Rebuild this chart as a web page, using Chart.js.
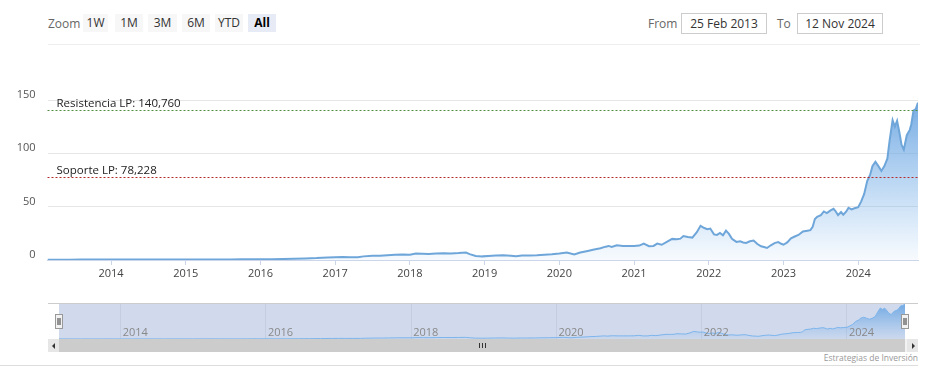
<!DOCTYPE html>
<html>
<head>
<meta charset="utf-8">
<script src="https://cdn.jsdelivr.net/npm/chart.js@4"></script>
<style>
  body { margin: 0; width: 933px; height: 388px; background: #fff; font-family: "Open Sans", sans-serif; overflow: hidden; position: relative; }
  .abs { position: absolute; }
  .zoom-label { left: 48px; top: 15px; font-size: 12px; color: #666; }
  .rs-btn { top: 14px; height: 18px; line-height: 18px; font-size: 12px; color: #333; background: #f7f7f7; text-align: center; }
  .rs-btn.active { background: #e6ebf5; font-weight: bold; color: #000; }
  .rs-text { top: 15px; font-size: 12px; color: #666; }
  .rs-input { top: 13px; line-height: 19px; border: 1px solid #ccc; font-size: 12px; color: #333; text-align: center; box-sizing: border-box; width: 86px; height: 21px; }
  .sep { left: 48px; top: 44px; width: 872px; height: 1px; background: #eee; }
  #mainWrap { left: 0; top: 50px; width: 933px; height: 240px; }
  #navWrap { left: 48px; top: 303px; width: 870px; height: 36px; }
  .sb-track { left: 48px; top: 339px; width: 870px; height: 13px; background: #f2f2f2; }
  .sb-thumb { left: 59px; top: 339px; width: 846px; height: 13px; background: #cccccc; }
  .sb-btn { top: 339px; width: 11px; height: 13px; background: #e6e6e6; }
  .sb-btn span { position: absolute; top: 4px; width: 0; height: 0; border-top: 3px solid transparent; border-bottom: 3px solid transparent; }
  .grip { left: 479px; top: 343px; width: 1px; height: 5px; background: #333; }
  .credits { right: 15px; top: 352px; font-size: 8.5px; color: #999; }
  .bottom-line { left: 0; top: 365px; width: 918px; height: 1px; background: #ddd; }
</style>
</head>
<body>
<div class="abs zoom-label">Zoom</div>
<div class="abs rs-btn" style="left:83px;width:25px">1W</div>
<div class="abs rs-btn" style="left:115px;width:28px">1M</div>
<div class="abs rs-btn" style="left:148px;width:29px">3M</div>
<div class="abs rs-btn" style="left:182px;width:28px">6M</div>
<div class="abs rs-btn" style="left:215px;width:28px">YTD</div>
<div class="abs rs-btn active" style="left:248px;width:28px">All</div>
<div class="abs rs-text" style="left:648px">From</div>
<div class="abs rs-input" style="left:681px">25 Feb 2013</div>
<div class="abs rs-text" style="left:777px">To</div>
<div class="abs rs-input" style="left:797px">12 Nov 2024</div>
<div class="abs sep"></div>

<div class="abs" id="mainWrap"><canvas id="mainChart"></canvas></div>
<div class="abs" id="navWrap"><canvas id="navChart"></canvas></div>

<div class="abs sb-track"></div>
<div class="abs sb-thumb"></div>
<div class="abs sb-btn" style="left:48px"><span style="left:4px;border-right:3px solid #333"></span></div>
<div class="abs sb-btn" style="left:907px"><span style="left:5px;border-left:3px solid #333"></span></div>
<div class="abs grip"></div>
<div class="abs grip" style="left:482px"></div>
<div class="abs grip" style="left:485px"></div>
<div class="abs credits">Estrategias de Inversión</div>
<div class="abs bottom-line"></div>

<script>
// fechas en año decimal (semanal aprox.) y precio de cierre
const dates = [
  2013.15, 2013.3, 2013.45, 2013.6, 2013.75, 2013.9,
  2014.0, 2014.15, 2014.3, 2014.45, 2014.6, 2014.75, 2014.9,
  2015.0, 2015.15, 2015.3, 2015.45, 2015.6, 2015.75, 2015.9,
  2016.0, 2016.15, 2016.3, 2016.45, 2016.6, 2016.75, 2016.9,
  2017.0, 2017.1, 2017.2, 2017.3, 2017.38, 2017.5, 2017.6, 2017.7, 2017.8, 2017.9,
  2018.0, 2018.08, 2018.17, 2018.25, 2018.35, 2018.45, 2018.55, 2018.65, 2018.75, 2018.8, 2018.88, 2018.97,
  2019.05, 2019.15, 2019.25, 2019.35, 2019.42, 2019.5, 2019.6, 2019.7, 2019.8, 2019.9,
  2020.0, 2020.1, 2020.2, 2020.28, 2020.38, 2020.45, 2020.55, 2020.62, 2020.66, 2020.7, 2020.77, 2020.85, 2020.93,
  2021.0, 2021.07, 2021.13, 2021.2, 2021.26, 2021.31, 2021.37, 2021.45, 2021.51, 2021.57, 2021.62, 2021.66,
  2021.72, 2021.78, 2021.84, 2021.89, 2021.94, 2021.98,
  2022.02, 2022.07, 2022.11, 2022.15, 2022.19, 2022.23, 2022.27, 2022.31, 2022.37, 2022.42, 2022.46, 2022.5,
  2022.55, 2022.6, 2022.65, 2022.7, 2022.75, 2022.78, 2022.83, 2022.88, 2022.93, 2022.97,
  2023.0, 2023.05, 2023.1, 2023.15, 2023.2, 2023.26, 2023.32, 2023.36, 2023.39, 2023.42, 2023.45, 2023.5,
  2023.54, 2023.58, 2023.63, 2023.67, 2023.7, 2023.73, 2023.77, 2023.8, 2023.84, 2023.87, 2023.91, 2023.95,
  2024.0, 2024.04, 2024.08, 2024.12, 2024.16, 2024.19, 2024.23, 2024.27, 2024.31, 2024.35, 2024.39, 2024.42,
  2024.46, 2024.49, 2024.52, 2024.55, 2024.58, 2024.61, 2024.65, 2024.69, 2024.71, 2024.74, 2024.77, 2024.8,
];
const prices = [
  0.31, 0.33, 0.35, 0.38, 0.38, 0.40,
  0.40, 0.45, 0.47, 0.48, 0.46, 0.48, 0.50,
  0.50, 0.55, 0.55, 0.50, 0.50, 0.62, 0.80,
  0.80, 0.80, 0.90, 1.20, 1.50, 1.80, 2.40,
  2.60, 2.70, 2.50, 2.60, 3.40, 4.00, 4.10, 4.50, 5.00, 5.20,
  5.00, 6.00, 5.80, 5.60, 6.20, 6.40, 6.20, 6.50, 7.00, 5.50, 3.80, 3.40,
  3.70, 4.20, 4.50, 4.00, 3.60, 4.20, 4.20, 4.40, 5.00, 5.30,
  6.00, 7.00, 5.20, 7.00, 8.50, 9.60, 11.0, 12.5, 13.2, 12.2, 13.8, 13.2, 13.2,
  13.1, 13.5, 15.4, 12.9, 13.2, 15.4, 14.3, 17.5, 19.8, 19.4, 20.0, 22.4,
  21.5, 21.0, 26.0, 32.0, 30.0, 28.8,
  29.5, 24.0, 23.5, 25.3, 23.2, 27.5, 24.5, 19.8, 17.0, 17.6, 16.4, 16.0,
  17.5, 18.2, 15.0, 12.8, 12.0, 11.3, 13.8, 15.8, 16.8, 15.2,
  14.3, 16.5, 20.3, 22.0, 23.5, 26.8, 27.5, 28.0, 31.0, 38.5, 40.5, 42.0,
  45.5, 44.0, 46.5, 48.0, 45.5, 42.0, 45.0, 42.5, 45.5, 49.0, 47.5, 48.5,
  49.5, 55.0, 62.0, 74.0, 80.0, 88.0, 92.0, 88.0, 83.5, 88.0, 95.0, 112.0,
  131.0, 125.0, 130.5, 120.0, 108.0, 103.5, 117.0, 122.0, 127.0, 140.0, 141.5, 147.5,
];
const yTicks = [0, 50, 100, 150];
const resistencia = 140.760;
const soporte = 78.228;
const xMin = 2013.15;
const xMax = 2024.8;

const points = dates.map((d, i) => ({ x: d, y: prices[i] }));

function areaGradient(ctx, top, bottom) {
  const g = ctx.createLinearGradient(0, top, 0, bottom);
  g.addColorStop(0, 'rgba(110, 166, 225, 0.95)');
  g.addColorStop(1, 'rgba(124, 181, 236, 0.06)');
  return g;
}

// lineas de soporte / resistencia
const plotLines = {
  id: 'plotLines',
  afterDatasetsDraw(chart) {
    const { ctx, chartArea } = chart;
    const y = chart.scales.y;
    const lines = [
      { v: resistencia, color: '#4f8f3f', text: 'Resistencia LP: 140,760' },
      { v: soporte, color: '#b52a2a', text: 'Soporte LP: 78,228' },
    ];
    ctx.save();
    lines.forEach((l) => {
      const py = Math.round(y.getPixelForValue(l.v)) + 0.5;
      ctx.strokeStyle = l.color;
      ctx.lineWidth = 1;
      ctx.setLineDash([2, 2]);
      ctx.beginPath();
      ctx.moveTo(chartArea.left, py);
      ctx.lineTo(chartArea.right, py);
      ctx.stroke();
      ctx.setLineDash([]);
      ctx.fillStyle = '#222';
      ctx.font = '11.5px "Open Sans"';
      ctx.textBaseline = 'alphabetic';
      ctx.fillText(l.text, chartArea.left + 9, py - 4);
    });
    ctx.restore();
  },
};

new Chart(document.getElementById('mainChart'), {
  type: 'line',
  data: {
    datasets: [{
      data: points,
      borderColor: '#6fa6da',
      borderWidth: 2,
      pointRadius: 0,
      tension: 0,
      fill: 'origin',
      backgroundColor: (c) => {
        const a = c.chart.chartArea;
        if (!a) return 'rgba(124,181,236,0.4)';
        return areaGradient(c.chart.ctx, a.top, a.bottom);
      },
    }],
  },
  options: {
    responsive: true,
    maintainAspectRatio: false,
    animation: false,
    layout: { padding: { top: 50, right: 15, left: 0, bottom: 0 } },
    plugins: { legend: { display: false }, tooltip: { enabled: false } },
    scales: {
      x: {
        type: 'linear',
        min: xMin,
        max: xMax,
        ticks: {
          stepSize: 1,
          includeBounds: false,
          color: '#444',
          font: { family: 'Open Sans', size: 11 },
          padding: 2,
          maxRotation: 0,
          callback: (v) => String(v),
        },
        grid: { drawOnChartArea: false, tickLength: 5, color: '#ccd6eb' },
        border: { color: '#ccd6eb' },
        afterFit: (s) => { s.height = 30; },
      },
      y: {
        min: 0,
        max: 150,
        afterBuildTicks: (s) => { s.ticks = yTicks.map((v) => ({ value: v })); },
        ticks: {
          color: '#555',
          font: { family: 'Open Sans', size: 11 },
          padding: 12,
          labelOffset: -5,
        },
        grid: { color: '#e6e6e6', drawTicks: false },
        border: { display: false },
        afterFit: (s) => { s.width = 47.5; },
      },
    },
  },
  plugins: [plotLines],
});

// navegador
const navDecor = {
  id: 'navDecor',
  beforeDraw(chart) {
    const { ctx, chartArea } = chart;
    ctx.save();
    ctx.fillStyle = 'rgb(209, 218, 237)';
    ctx.fillRect(chartArea.left, chartArea.top, chartArea.right - chartArea.left, chartArea.bottom - chartArea.top);
    ctx.restore();
  },
  afterDraw(chart) {
    const { ctx, chartArea } = chart;
    const x = chart.scales.x;
    ctx.save();
    ctx.fillStyle = '#888';
    ctx.font = '11px "Open Sans"';
    ctx.textBaseline = 'bottom';
    x.ticks.forEach((t) => {
      const px = x.getPixelForValue(t.value);
      ctx.fillText(String(t.value), px + 2, chartArea.bottom - 1);
    });
    // contorno superior
    ctx.strokeStyle = '#cccccc';
    ctx.lineWidth = 1;
    ctx.beginPath();
    ctx.moveTo(0, 0.5);
    ctx.lineTo(chart.width, 0.5);
    ctx.stroke();
    // manijas
    [chartArea.left, chartArea.right].forEach((hx) => {
      const left = Math.round(hx) - 3.5;
      ctx.fillStyle = '#f2f2f2';
      ctx.strokeStyle = '#999';
      ctx.fillRect(left, 11.5, 7, 14);
      ctx.strokeRect(left, 11.5, 7, 14);
      ctx.strokeStyle = '#333';
      ctx.beginPath();
      ctx.moveTo(left + 2.5, 15);
      ctx.lineTo(left + 2.5, 22);
      ctx.moveTo(left + 4.5, 15);
      ctx.lineTo(left + 4.5, 22);
      ctx.stroke();
    });
    ctx.restore();
  },
};

new Chart(document.getElementById('navChart'), {
  type: 'line',
  data: {
    datasets: [{
      data: points,
      borderColor: '#7cb5ec',
      borderWidth: 1,
      pointRadius: 0,
      tension: 0,
      fill: 'origin',
      backgroundColor: (c) => {
        const a = c.chart.chartArea;
        if (!a) return 'rgba(124,181,236,0.4)';
        return areaGradient(c.chart.ctx, a.top, a.bottom);
      },
    }],
  },
  options: {
    responsive: true,
    maintainAspectRatio: false,
    animation: false,
    layout: { padding: { top: 1, left: 11, right: 13, bottom: 0 } },
    plugins: { legend: { display: false }, tooltip: { enabled: false } },
    scales: {
      x: {
        type: 'linear',
        min: xMin,
        max: xMax,
        ticks: { stepSize: 2, includeBounds: false, display: false },
        afterBuildTicks: (s) => { s.ticks = s.ticks.filter((t) => t.value % 2 === 0); },
        grid: { drawOnChartArea: true, drawTicks: false, color: '#c5cde0' },
        border: { display: false },
        afterFit: (s) => { s.height = 0; },
      },
      y: { display: false, min: 0, max: 148 },
    },
  },
  plugins: [navDecor],
});
</script>
</body>
</html>
